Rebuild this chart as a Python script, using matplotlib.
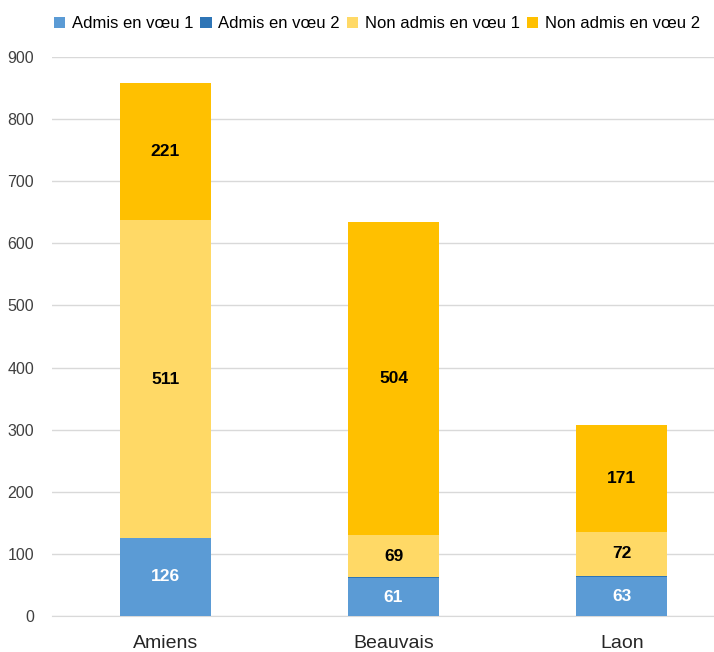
import numpy as np
import matplotlib
matplotlib.use("Agg")
import matplotlib.pyplot as plt

plt.rcParams['font.family'] = ['Liberation Sans', 'DejaVu Sans']

sites = ['Amiens', 'Beauvais', 'Laon']
series = ['Admis en vœu 1', 'Admis en vœu 2', 'Non admis en vœu 1', 'Non admis en vœu 2']
admis_v1 = [126, 61, 63]
admis_v2 = [0, 1, 1]
non_admis_v1 = [511, 69, 72]
non_admis_v2 = [221, 504, 171]
colors = ['#5B9BD5', '#2E75B6', '#FFD966', '#FFC000']
label_colors = ['white', 'white', 'black', 'black']

fig = plt.figure(figsize=(7.14, 6.52), dpi=100)
ax = fig.add_axes([52 / 714, (652 - 616) / 652, (714 - 52) / 714, (616 - 57) / 652])

x = np.arange(len(sites))
bottom = np.zeros(len(sites))
for name, vals, c, lc in zip(series, [admis_v1, admis_v2, non_admis_v1, non_admis_v2], colors, label_colors):
    vals = np.array(vals, dtype=float)
    ax.bar(x, vals, 0.4, bottom=bottom, color=c, label=name, zorder=3)
    for xi, v, b in zip(x, vals, bottom):
        if v >= 20:
            ax.text(xi, b + v / 2, str(int(v)), ha='center', va='center',
                    fontsize=12.5, fontweight='bold', color=lc, zorder=4)
    bottom += vals

ax.set_xlim(-0.496, 2.404)
ax.set_ylim(0, 900)
ax.set_yticks(range(0, 901, 100))
ax.yaxis.grid(True, color='#D9D9D9', linewidth=1, zorder=0)
ax.set_xticks(x)
ax.set_xticklabels(sites, fontsize=14, color='#262626')
ax.tick_params(axis='y', labelsize=11.5, colors='#404040', length=0, pad=13)
ax.tick_params(axis='x', length=0, pad=14)
for s in ['top', 'right', 'left']:
    ax.spines[s].set_visible(False)
ax.spines['bottom'].set_color('#D9D9D9')
ax.spines['bottom'].set_zorder(0)

fig.legend(loc='upper right', bbox_to_anchor=(0.997, 0.993), ncol=4, frameon=False,
           fontsize=12, handlelength=0.7, handleheight=0.7, handletextpad=0.4,
           columnspacing=0.4, borderaxespad=0.3)

fig.savefig('out.png', dpi=100)
